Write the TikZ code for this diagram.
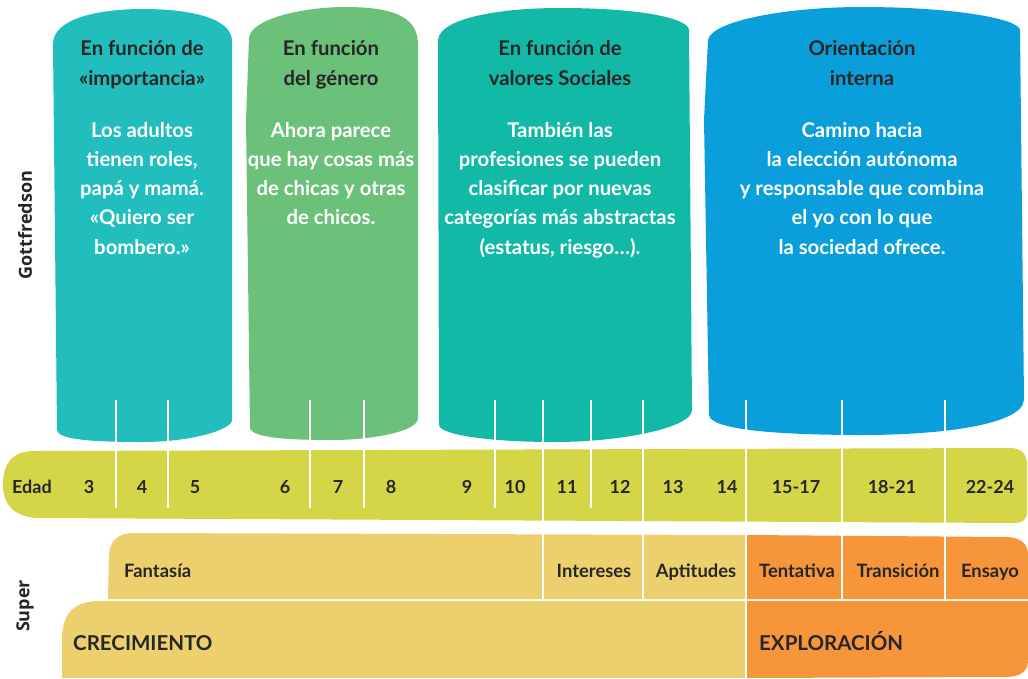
\documentclass[tikz,border=0pt]{standalone}
\usepackage{fontspec}
\setmainfont{Lato}
\newfontfamily\osans{Open Sans}
\definecolor{pone}{HTML}{22BDBD}
\definecolor{ptwo}{HTML}{6BC17A}
\definecolor{pthree}{HTML}{12B9A7}
\definecolor{pfour}{HTML}{0A9FDB}
\definecolor{edadc}{HTML}{D4D648}
\definecolor{goldc}{HTML}{EDD06E}
\definecolor{orangec}{HTML}{F7953A}
\definecolor{txtdark}{HTML}{262626}
\tikzset{
  lbl/.style={font=\fontsize{20.3}{29.3}\selectfont\bfseries, inner sep=0pt, align=center, anchor=base},
  ttl/.style={lbl, text=txtdark},
  body/.style={lbl, text=white},
  age/.style={font=\fontsize{18}{20}\selectfont\bfseries, text=txtdark, inner sep=0pt, anchor=base},
  stage/.style={font=\fontsize{18.4}{20}\selectfont\bfseries, text=txtdark, inner sep=0pt, anchor=base},
  phase/.style={font=\fontsize{20.5}{22}\selectfont\bfseries, text=txtdark, inner sep=0pt, anchor=base west},
  side/.style={font=\osans\fontsize{18}{20}\selectfont\bfseries, text=txtdark, inner sep=0pt, rotate=90},
  sepline/.style={white, line width=1.2pt},
}
\begin{document}
\begin{tikzpicture}[x=1pt,y=-1pt]
\useasboundingbox (0,0) rectangle (1028,678);
% panels
\fill[pone] (53,45) .. controls (52,18) and (100,9) .. (143,9) .. controls (190,9) and (233,18) .. (232,42) -- (232,420) .. controls (232,430) and (190,442) .. (143,442) .. controls (95,442) and (58,440) .. (57,430) -- cycle;
\fill[ptwo] (249,38) .. controls (250,20) and (300,7) .. (345,7) .. controls (400,7) and (418,20) .. (418,45) -- (418,418) .. controls (418,432) and (370,440) .. (332,440) .. controls (290,440) and (252,438) .. (250,428) -- (246,120) -- cycle;
\fill[pthree] (438,40) .. controls (440,18) and (500,8) .. (560,8) .. controls (640,8) and (688,18) .. (689,30) -- (692,410) .. controls (692,428) and (620,442) .. (555,442) .. controls (490,442) and (440,435) .. (439,425) -- cycle;
\fill[pfour] (708,40) .. controls (712,20) and (790,7) .. (862,7) .. controls (950,7) and (1018,18) .. (1020,30) -- (1024,400) .. controls (1022,425) and (940,435) .. (862,435) .. controls (780,435) and (710,430) .. (709,415) -- (704,120) -- cycle;
% edad bar
\fill[edadc] (3,485) .. controls (3,460) and (15,451) .. (35,451) -- (1010,448) .. controls (1022,448) and (1027,455) .. (1027,465) -- (1027,512) .. controls (1027,520) and (1022,523) .. (1015,523) -- (40,518) .. controls (15,518) and (3,505) .. (3,485) -- cycle;
% super rows
\fill[goldc] (108,599) -- (109,555) .. controls (110,540) and (118,533) .. (135,533) -- (747,535) -- (747,599) -- cycle;
\fill[orangec] (747,535) -- (1005,537) .. controls (1020,537) and (1028,543) .. (1028,555) -- (1028,599) -- (747,599) -- cycle;
\fill[goldc] (62,678) -- (62,640) .. controls (62,612) and (75,601) .. (100,601) -- (747,601) -- (747,678) -- cycle;
\fill[orangec] (747,601) -- (1028,601) -- (1028,660) .. controls (1028,672) and (1020,677) .. (1005,677) -- (747,678) -- cycle;
% separators
\foreach \x in {116,168,310,364,495,591} \draw[sepline] (\x,400) -- (\x,508);
\foreach \x in {543,643,842,945} \draw[sepline] (\x,400) -- (\x,599);
\draw[sepline] (746,400) -- (746,678);
% panel texts (base anchor = last line baseline)
\node[ttl] (t1) at (142,85) {En función de\\«importancia»};
\node[body] (b1) at (142,254.2) {Los adultos\\tienen roles,\\papá y mamá.\\«Quiero ser\\bombero.»};
\node[ttl] (t2) at (331,85) {En función\\del género};
\node[body] (b2) at (331,224.9) {Ahora parece\\que hay cosas más\\de chicas y otras\\de chicos.};
\node[ttl] (t3) at (560,85) {En función de\\valores Sociales};
\node[body] (b3) at (560,254.2) {También las\\profesiones se pueden\\clasificar por nuevas\\categorías más abstractas\\(estatus, riesgo…).};
\node[ttl] (t4) at (862,85) {Orientación\\interna};
\node[body] (b4) at (862,254.2) {Camino hacia\\la elección autónoma\\y responsable que combina\\el yo con lo que\\la sociedad ofrece.};
% ages
\node[age] (edad) at (32,493) {Edad};
\node[age] (a3) at (89,493) {3};
\node[age] (a4) at (142,493) {4};
\node[age] (a5) at (195,493) {5};
\node[age] (a6) at (285,493) {6};
\node[age] (a7) at (338,493) {7};
\node[age] (a8) at (391,493) {8};
\node[age] (a9) at (467,493) {9};
\node[age] (a10) at (515,493) {10};
\node[age] (a11) at (567,493) {11};
\node[age] (a12) at (620,493) {12};
\node[age] (a13) at (673,493) {13};
\node[age] (a14) at (727,493) {14};
\node[age] (a15) at (796,493) {15-17};
\node[age] (a18) at (892,493) {18-21};
\node[age] (a22) at (990,493) {22-24};
% super stages
\node[stage, anchor=base west] (fan) at (124,577) {Fantasía};
\node[stage] (int) at (594,577) {Intereses};
\node[stage] (apt) at (696,577) {Aptitudes};
\node[stage] (ten) at (797,577) {Tentativa};
\node[stage] (tra) at (898,577) {Transición};
\node[stage] (ens) at (990,577) {Ensayo};
\node[phase] (cre) at (73,650) {CRECIMIENTO};
\node[phase] (exp) at (759,650) {EXPLORACIÓN};
% side labels
\node[side] (gott) at (25,225) {Gottfredson};
\node[side] (sup) at (25,606) {Super};
\end{tikzpicture}
\end{document}
